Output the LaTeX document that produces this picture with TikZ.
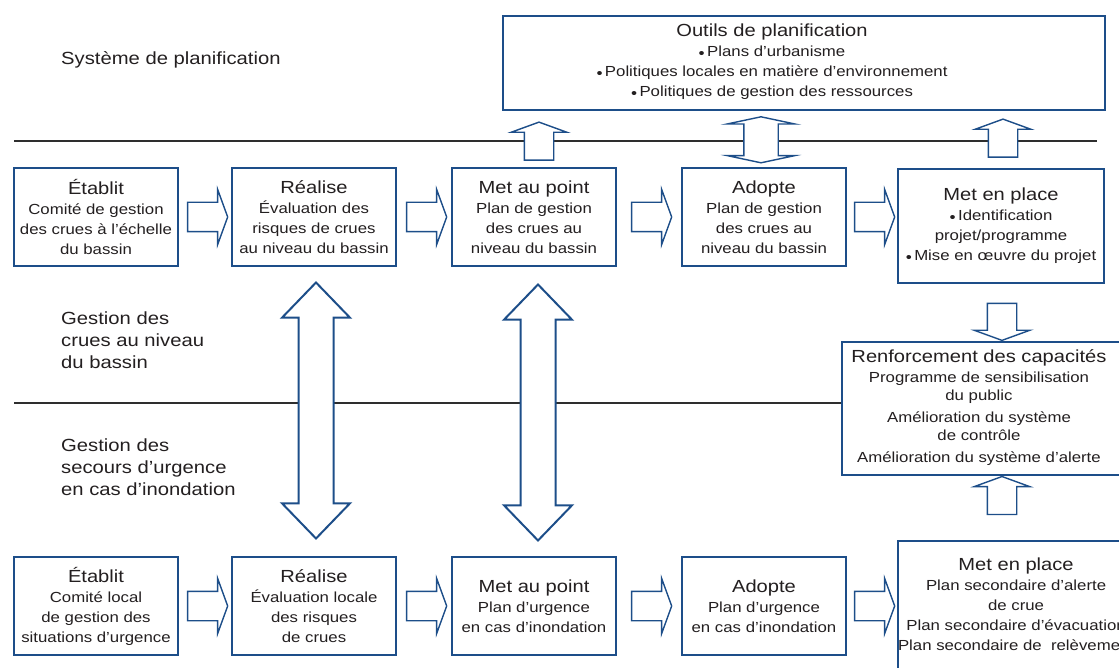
\documentclass[tikz,border=0pt]{standalone}
\usepackage{fontspec}
\setmainfont{Liberation Sans}[FakeStretch=1.15]
\usetikzlibrary{positioning,shapes.arrows,calc}
\definecolor{boxblue}{HTML}{1D4E89}
\definecolor{sepgray}{HTML}{2E2E2E}
\definecolor{txtgray}{HTML}{231F20}
\newcommand\titf{\fontsize{17.5}{21}\selectfont}
\newcommand\bodyf{\fontsize{14.6}{20}\selectfont}
\newcommand\blt{\raisebox{-2pt}{\fontsize{15}{15}\selectfont\textbullet}\,}
\begin{document}
\begin{tikzpicture}[x=1pt,y=-1pt,
  box/.style={draw=boxblue,line width=2.4pt,fill=white,minimum width=164,minimum height=98,inner sep=0pt,align=center,text=txtgray,font=\bodyf},
  sep/.style={draw=sepgray,line width=2.4pt},
  side/.style={anchor=west,align=left,text=txtgray,font=\fontsize{17.6}{22}\selectfont,inner sep=0pt},
  rarr/.style={single arrow,draw=boxblue,line width=1.4pt,fill=white,inner xsep=0pt,inner ysep=14pt,minimum height=40,minimum width=54,single arrow head extend=13,single arrow tip angle=140},
  uarr/.style={rarr,rotate=90,minimum height=38},
  darr/.style={rarr,rotate=-90,minimum height=37},
  tarr/.style={double arrow,draw=boxblue,line width=1.4pt,fill=white,inner xsep=0pt,inner ysep=16.5pt,rotate=90,minimum height=46,minimum width=66,double arrow head extend=16.5,double arrow tip angle=156},
  barr/.style={tarr,line width=2pt,minimum height=256,double arrow tip angle=88}
  ]
  \useasboundingbox (0,0) rectangle (1119,668);
  \clip (0,0) rectangle (1119,668);
  % separators
  \draw[sep] (14,141) -- (1097,141);
  \draw[sep] (14,403) -- (842,403);
  % labels
  \node[side] (lplan) at (61,60) {Système de planification};
  \node[side] (lbas) at (61,340) {Gestion des\\crues au niveau\\du bassin};
  \node[side] (lurg) at (61,467) {Gestion des\\secours d’urgence\\en cas d’inondation};
  % top row
  \node[box] (e1) at (96,217) {{\titf Établit}\\Comité de gestion\\des crues à l’échelle\\du bassin};
  \node[box] (r1) [right=51.6 of e1] {{\titf Réalise}\\Évaluation des\\risques de crues\\au niveau du bassin};
  \node[box] (m1) [right=53.6 of r1] {{\titf Met au point}\\Plan de gestion\\des crues au\\niveau du bassin};
  \node[box] (a1) [right=63.6 of m1] {{\titf Adopte}\\Plan de gestion\\des crues au\\niveau du bassin};
  \node[box,minimum width=206,minimum height=114] (p1) [right=49.6 of a1,yshift=-9] {{\titf Met en place}\\\blt Identification\\projet/programme\\\blt Mise en œuvre du projet};
  % planning tools and capacities
  \node[box,minimum width=602,minimum height=94] (outils) at (804,63) {\begin{tabular}{@{}c@{\hspace{64pt}}}{\titf Outils de planification}\\\blt Plans d’urbanisme\\\blt Politiques locales en matière d’environnement\\\blt Politiques de gestion des ressources\end{tabular}};
  \node[box,minimum width=282,minimum height=133,font=\fontsize{14.6}{18}\selectfont] (renf) at (983,408.5) {\begin{tabular}{@{}c@{\hspace{8pt}}}{\titf Renforcement des capacités}\\[2pt]Programme de sensibilisation\\du public\\[4pt]Amélioration du système\\de contrôle\\[4pt]Amélioration du système d’alerte\end{tabular}};
  % bottom row
  \node[box] (e2) at (96,606) {{\titf Établit}\\Comité local\\de gestion des\\situations d’urgence};
  \node[box] (r2) [right=51.6 of e2] {{\titf Réalise}\\Évaluation locale\\des risques\\de crues};
  \node[box] (m2) [right=53.6 of r2] {{\titf Met au point}\\Plan d’urgence\\en cas d’inondation};
  \node[box] (a2) [right=63.6 of m2] {{\titf Adopte}\\Plan d’urgence\\en cas d’inondation};
  \node[box,minimum width=226,minimum height=130] (p2) [right=49.6 of a2] {\begin{tabular}{@{}c@{\hspace{20pt}}}{\titf Met en place}\\Plan secondaire d’alerte\\de crue\\Plan secondaire d’évacuation\\Plan secondaire de\ \ relèvement\end{tabular}};
  % block arrows
  \node[rarr] (h1) at ($(e1.east)!.5!(r1.west)$) {};
  \node[rarr] (h2) at ($(r1.east)!.5!(m1.west)$) {};
  \node[rarr] (h3) at ($(m1.east)!.5!(a1.west)$) {};
  \node[rarr] (h4) at ($(a1.east)!.5!(a1.east -| p1.west)$) {};
  \node[rarr] (g1) at ($(e2.east)!.5!(r2.west)$) {};
  \node[rarr] (g2) at ($(r2.east)!.5!(m2.west)$) {};
  \node[rarr] (g3) at ($(m2.east)!.5!(a2.west)$) {};
  \node[rarr] (g4) at ($(a2.east)!.5!(a2.east -| p2.west)$) {};
  \node[uarr] (u1) at ($(m1.north)+(5,-23)$) {};
  \node[tarr] (t1) at ($(a1.north)+(-3,-27)$) {};
  \node[uarr] (u2) at ($(p1.north)+(2,-27)$) {};
  \node[darr] (w1) at ($(p1.south)+(1,35)$) {};
  \node[uarr] (u3) at ($(renf.south -| p1.south)+(1,22)$) {};
  \node[barr] (b1) at ($(r1.south)!.5!(r2.north)+(2,-1)$) {};
  \node[barr] (b2) at ($(m1.south)!.5!(m2.north)+(4,1)$) {};
\end{tikzpicture}
\end{document}
